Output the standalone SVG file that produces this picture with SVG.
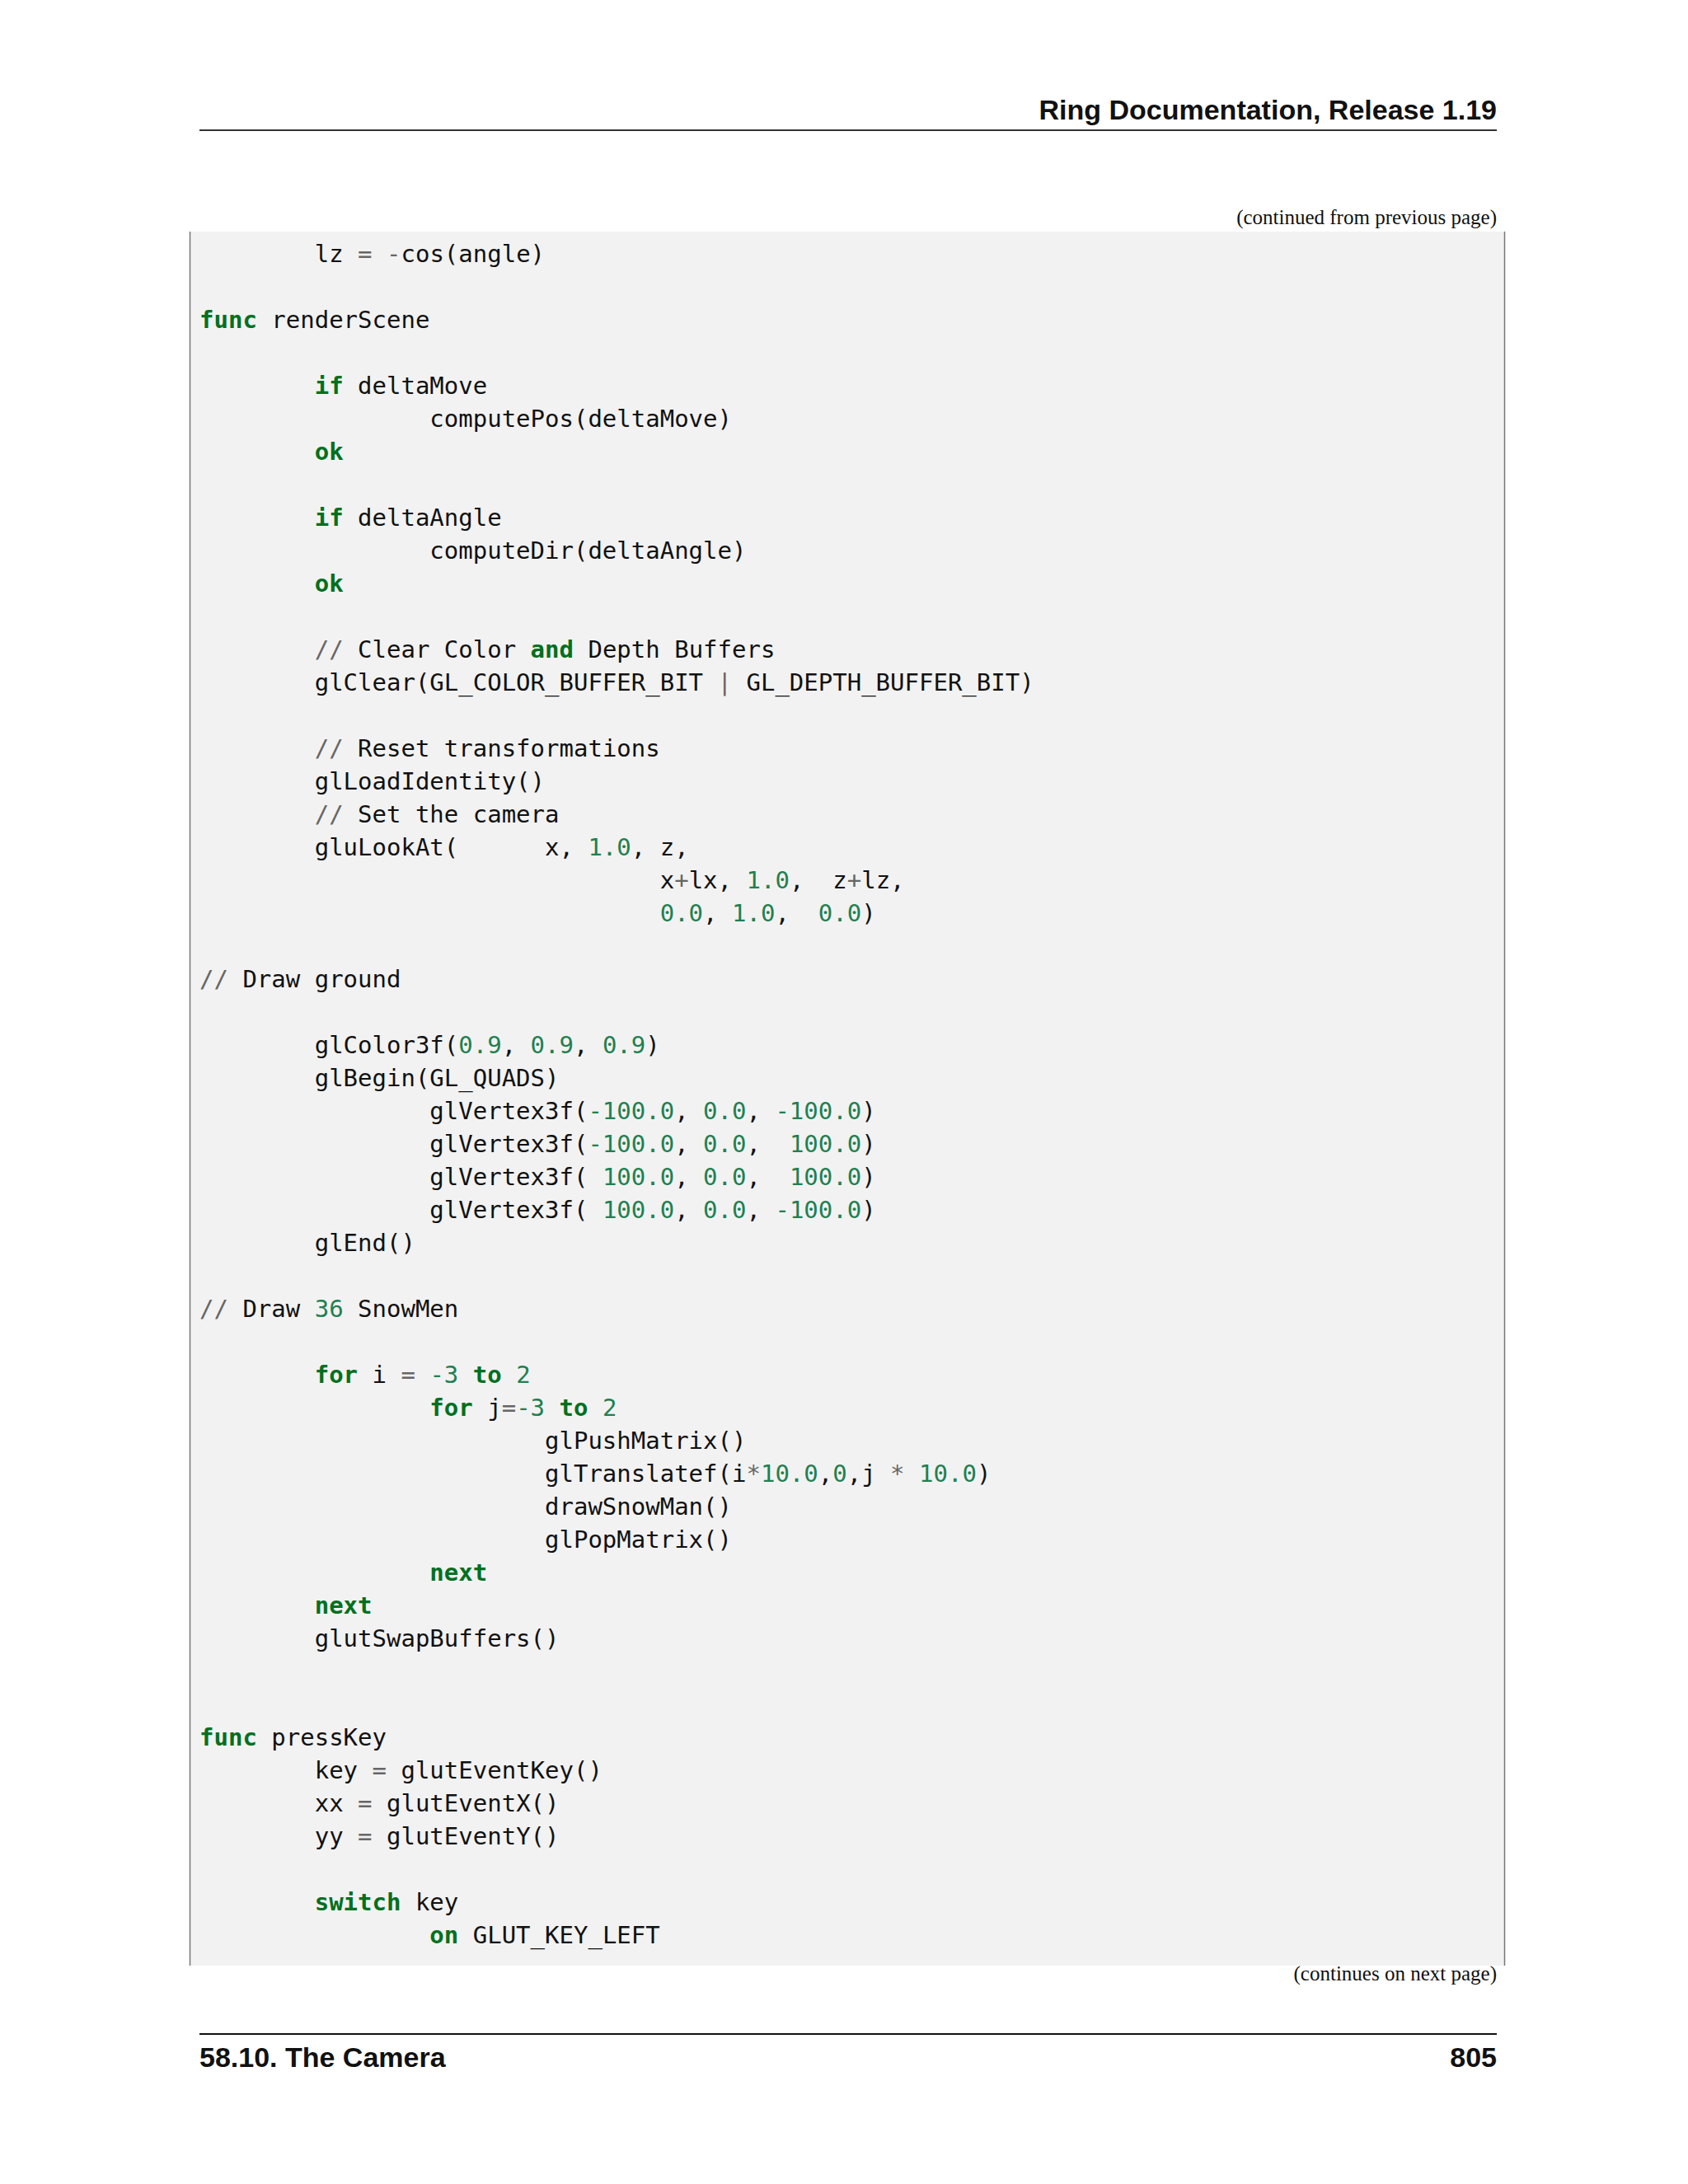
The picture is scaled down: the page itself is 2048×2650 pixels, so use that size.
<svg xmlns="http://www.w3.org/2000/svg" width="2048" height="2650" viewBox="0 0 2048 2650">
<style>
.c{font-family:"DejaVu Sans Mono",monospace;font-size:29px;fill:#111;white-space:pre}
.k{fill:#007020;font-weight:bold}
.n{fill:#208050}
.o{fill:#666666}
.h{font-family:"Liberation Sans",Arial,sans-serif;font-weight:bold;font-size:34px;fill:#111}
.s{font-family:"Liberation Serif","Times New Roman",serif;font-size:25px;fill:#111}
</style>
<rect width="2048" height="2650" fill="#fff"/>
<g id="header">
<text class="h" x="1816" y="145" text-anchor="end">Ring Documentation, Release 1.19</text>
<line x1="242" y1="158" x2="1816" y2="158" stroke="#333" stroke-width="2"/>
</g>
<text class="s" x="1816" y="272" text-anchor="end">(continued from previous page)</text>
<g id="codebox">
<rect x="230" y="281" width="1596" height="2104" fill="#f2f2f2"/>
<line x1="230.5" y1="281" x2="230.5" y2="2385" stroke="#777" stroke-width="1.5"/>
<line x1="1825.5" y1="281" x2="1825.5" y2="2385" stroke="#777" stroke-width="1.5"/>
</g>
<g id="code" xml:space="preserve">
<text class="c" x="242" y="318">        lz <tspan class="o">=</tspan> <tspan class="o">-</tspan>cos(angle)</text>
<text class="c" x="242" y="398"><tspan class="k">func</tspan> renderScene</text>
<text class="c" x="242" y="478">        <tspan class="k">if</tspan> deltaMove</text>
<text class="c" x="242" y="518">                computePos(deltaMove)</text>
<text class="c" x="242" y="558">        <tspan class="k">ok</tspan></text>
<text class="c" x="242" y="638">        <tspan class="k">if</tspan> deltaAngle</text>
<text class="c" x="242" y="678">                computeDir(deltaAngle)</text>
<text class="c" x="242" y="718">        <tspan class="k">ok</tspan></text>
<text class="c" x="242" y="798">        <tspan class="o">//</tspan> Clear Color <tspan class="k">and</tspan> Depth Buffers</text>
<text class="c" x="242" y="838">        glClear(GL_COLOR_BUFFER_BIT <tspan class="o">|</tspan> GL_DEPTH_BUFFER_BIT)</text>
<text class="c" x="242" y="918">        <tspan class="o">//</tspan> Reset transformations</text>
<text class="c" x="242" y="958">        glLoadIdentity()</text>
<text class="c" x="242" y="998">        <tspan class="o">//</tspan> Set the camera</text>
<text class="c" x="242" y="1038">        gluLookAt(      x, <tspan class="n">1.0</tspan>, z,</text>
<text class="c" x="242" y="1078">                                x<tspan class="o">+</tspan>lx, <tspan class="n">1.0</tspan>,  z<tspan class="o">+</tspan>lz,</text>
<text class="c" x="242" y="1118">                                <tspan class="n">0.0</tspan>, <tspan class="n">1.0</tspan>,  <tspan class="n">0.0</tspan>)</text>
<text class="c" x="242" y="1198"><tspan class="o">//</tspan> Draw ground</text>
<text class="c" x="242" y="1278">        glColor3f(<tspan class="n">0.9</tspan>, <tspan class="n">0.9</tspan>, <tspan class="n">0.9</tspan>)</text>
<text class="c" x="242" y="1318">        glBegin(GL_QUADS)</text>
<text class="c" x="242" y="1358">                glVertex3f(<tspan class="n">-100.0</tspan>, <tspan class="n">0.0</tspan>, <tspan class="n">-100.0</tspan>)</text>
<text class="c" x="242" y="1398">                glVertex3f(<tspan class="n">-100.0</tspan>, <tspan class="n">0.0</tspan>,  <tspan class="n">100.0</tspan>)</text>
<text class="c" x="242" y="1438">                glVertex3f( <tspan class="n">100.0</tspan>, <tspan class="n">0.0</tspan>,  <tspan class="n">100.0</tspan>)</text>
<text class="c" x="242" y="1478">                glVertex3f( <tspan class="n">100.0</tspan>, <tspan class="n">0.0</tspan>, <tspan class="n">-100.0</tspan>)</text>
<text class="c" x="242" y="1518">        glEnd()</text>
<text class="c" x="242" y="1598"><tspan class="o">//</tspan> Draw <tspan class="n">36</tspan> SnowMen</text>
<text class="c" x="242" y="1678">        <tspan class="k">for</tspan> i <tspan class="o">=</tspan> <tspan class="n">-3</tspan> <tspan class="k">to</tspan> <tspan class="n">2</tspan></text>
<text class="c" x="242" y="1718">                <tspan class="k">for</tspan> j<tspan class="o">=</tspan><tspan class="n">-3</tspan> <tspan class="k">to</tspan> <tspan class="n">2</tspan></text>
<text class="c" x="242" y="1758">                        glPushMatrix()</text>
<text class="c" x="242" y="1798">                        glTranslatef(i<tspan class="o">*</tspan><tspan class="n">10.0</tspan>,<tspan class="n">0</tspan>,j <tspan class="o">*</tspan> <tspan class="n">10.0</tspan>)</text>
<text class="c" x="242" y="1838">                        drawSnowMan()</text>
<text class="c" x="242" y="1878">                        glPopMatrix()</text>
<text class="c" x="242" y="1918">                <tspan class="k">next</tspan></text>
<text class="c" x="242" y="1958">        <tspan class="k">next</tspan></text>
<text class="c" x="242" y="1998">        glutSwapBuffers()</text>
<text class="c" x="242" y="2118"><tspan class="k">func</tspan> pressKey</text>
<text class="c" x="242" y="2158">        key <tspan class="o">=</tspan> glutEventKey()</text>
<text class="c" x="242" y="2198">        xx <tspan class="o">=</tspan> glutEventX()</text>
<text class="c" x="242" y="2238">        yy <tspan class="o">=</tspan> glutEventY()</text>
<text class="c" x="242" y="2318">        <tspan class="k">switch</tspan> key</text>
<text class="c" x="242" y="2358">                <tspan class="k">on</tspan> GLUT_KEY_LEFT</text>
</g>
<text class="s" x="1816" y="2403" text-anchor="end">(continues on next page)</text>
<g id="footer">
<line x1="242" y1="2468" x2="1816" y2="2468" stroke="#111" stroke-width="2"/>
<text class="h" x="242" y="2508">58.10.  The Camera</text>
<text class="h" x="1816" y="2508" text-anchor="end">805</text>
</g>
</svg>
